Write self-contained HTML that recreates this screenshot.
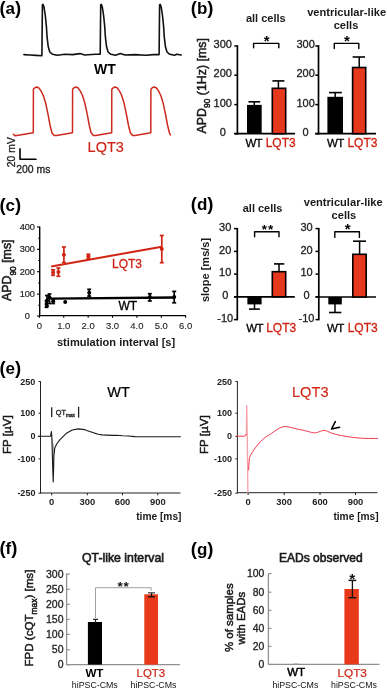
<!DOCTYPE html>
<html><head><meta charset="utf-8"><title>Figure</title>
<style>
html,body{margin:0;padding:0;background:#fff;}
body{width:387px;height:689px;overflow:hidden;}
svg{display:block;filter:blur(0.3px);font-family:"Liberation Sans",sans-serif;}
</style></head><body>
<svg width="387" height="689" viewBox="0 0 387 689">
<rect width="387" height="689" fill="#fff"/>
<text x="-0.6" y="13.6" font-size="17" font-weight="bold" fill="#000"><tspan font-size="18.5">(</tspan>a<tspan font-size="18.5">)</tspan></text>
<path d="M23.9,54.6 L30,55 L36,55.4 L41.9,55.8 L42.4,4.9 L43,4.4 L44,7 L45.3,15.5 L46.4,26.4 L47.1,37.2 L48.2,46.5 L49.8,52 L52.6,54.3 L57.2,55.2 L65,54.3 L72.7,54.6 L80,53.6 L84.6,55 L95.5,54.3 L100.2,54.3 L100.7,4.9 L101.3,4.4 L102.3,7 L103.6,15.5 L104.7,26.4 L105.4,37.2 L106.5,46.5 L108.1,52 L110.9,54.3 L115.5,55.2 L120.3,53.5 L125,55 L135,54.6 L145.9,55.3 L153.6,54.6 L159.1,54.6 L159.6,4.9 L160.2,4.4 L161.2,7 L162.5,15.5 L163.6,26.4 L164.3,37.2 L165.4,46.5 L167,52 L169.8,54.3 L174.4,55.2 L176.9,54.3 L181.2,55" stroke="#111" stroke-width="1.6" fill="none" stroke-linejoin="round" stroke-linecap="round" />
<text x="94" y="73.6" font-size="14" font-weight="bold" fill="#000" >WT</text>
<path d="M13.4,134.3 L15.4,135.8 L33.3,132.8 L33.4,89.3 L34,88.3 L36.4,87 L38.7,87.75 L41,90.9 L43.3,95.5 L45.7,103.3 L48,114.1 L50,125 L51.9,132.7 L54.2,135.5 L56.5,135.6 L72.5,132.8 L72.6,89.3 L73.2,88.3 L75.6,87 L77.9,87.75 L80.2,90.9 L82.5,95.5 L84.9,103.3 L87.2,114.1 L89.2,125 L91.1,132.7 L93.4,135.5 L95.7,135.6 L111.7,132.8 L111.8,89.3 L112.4,88.3 L114.8,87 L117.1,87.75 L119.4,90.9 L121.7,95.5 L124.1,103.3 L126.4,114.1 L128.4,125 L130.3,132.7 L132.6,135.5 L134.9,135.6 L150.8,132.8 L150.9,89.3 L151.5,88.3 L153.9,87 L156.2,87.75 L158.5,90.9 L160.8,95.5 L163.2,103.3 L165.5,114.1 L167.5,125 L169.4,132.7 L170.4,135" stroke="#cd2a1e" stroke-width="1.5" fill="none" stroke-linejoin="round" stroke-linecap="round" />
<text x="87.6" y="152.3" font-size="14.5" fill="#d02414"  stroke="#d02414" stroke-width="0.15">LQT3</text>
<text transform="translate(15.3,167.2) rotate(-90)" font-size="10.4" fill="#222"  stroke="#222" stroke-width="0.3">20 mV</text>
<path d="M20,148.9 L20,159.2 L36,159.2" stroke="#000" stroke-width="1.6" fill="none" stroke-linejoin="round" stroke-linecap="round" />
<text x="16.3" y="172.6" font-size="10.4" fill="#222"  stroke="#222" stroke-width="0.3">200 ms</text>
<text x="190.8" y="13.6" font-size="17" font-weight="bold" fill="#000"><tspan font-size="18.5">(</tspan>b<tspan font-size="18.5">)</tspan></text>
<text x="265.8" y="22.2" font-size="11" font-weight="bold" text-anchor="middle" fill="#1a1a1a" >all cells</text>
<line x1="234.3" y1="46" x2="237.4" y2="46" stroke="#000" stroke-width="1.5" />
<text x="222.8" y="48.1" font-size="11" text-anchor="middle" fill="#222"  stroke="#222" stroke-width="0.3">300</text>
<line x1="234.3" y1="75.2" x2="237.4" y2="75.2" stroke="#000" stroke-width="1.5" />
<text x="222.8" y="77.3" font-size="11" text-anchor="middle" fill="#222"  stroke="#222" stroke-width="0.3">200</text>
<line x1="234.3" y1="104.6" x2="237.4" y2="104.6" stroke="#000" stroke-width="1.5" />
<text x="222.8" y="106.7" font-size="11" text-anchor="middle" fill="#222"  stroke="#222" stroke-width="0.3">100</text>
<line x1="234.3" y1="133.7" x2="237.4" y2="133.7" stroke="#000" stroke-width="1.5" />
<text x="222.8" y="135.8" font-size="11" text-anchor="middle" fill="#222"  stroke="#222" stroke-width="0.3">0</text>
<line x1="237.4" y1="45.2" x2="237.4" y2="134.5" stroke="#000" stroke-width="1.7" />
<line x1="234.3" y1="133.7" x2="295" y2="133.7" stroke="#000" stroke-width="1.7" />
<rect x="247" y="104.9" width="14.7" height="28.8" fill="#000"/>
<line x1="254.3" y1="101.8" x2="254.3" y2="105.5" stroke="#000" stroke-width="1.5" />
<line x1="248.5" y1="101.8" x2="260.2" y2="101.8" stroke="#000" stroke-width="1.6" />
<line x1="278.4" y1="80.9" x2="278.4" y2="88" stroke="#000" stroke-width="1.5" />
<line x1="272.4" y1="80.9" x2="284.4" y2="80.9" stroke="#000" stroke-width="1.6" />
<rect x="272.3" y="88.3" width="13.4" height="45.4" fill="#e6381c" stroke="#000" stroke-width="1.6"/>
<path d="M253.6,47.8 L253.6,43.4 L278.8,43.4 L278.8,47.8" stroke="#000" stroke-width="1.4" fill="none" stroke-linejoin="round" stroke-linecap="round" />
<text x="266.6" y="45.8" font-size="15" font-weight="bold" text-anchor="middle" fill="#000" >*</text>
<text x="245.4" y="146.9" font-size="11.5" fill="#000" letter-spacing="-0.7" stroke="#000" stroke-width="0.3">WT</text>
<text x="265.7" y="146.9" font-size="12" fill="#d02414"  stroke="#d02414" stroke-width="0.3">LQT3</text>
<text x="346.6" y="15.7" font-size="11.1" font-weight="bold" text-anchor="middle" fill="#1a1a1a" >ventricular-like</text>
<text x="346" y="28.6" font-size="11.1" font-weight="bold" text-anchor="middle" fill="#1a1a1a" >cells</text>
<line x1="315.3" y1="46" x2="318.5" y2="46" stroke="#000" stroke-width="1.5" />
<text x="305.6" y="48.1" font-size="11" text-anchor="middle" fill="#222"  stroke="#222" stroke-width="0.3">300</text>
<line x1="315.3" y1="75.2" x2="318.5" y2="75.2" stroke="#000" stroke-width="1.5" />
<text x="305.6" y="77.3" font-size="11" text-anchor="middle" fill="#222"  stroke="#222" stroke-width="0.3">200</text>
<line x1="315.3" y1="104.6" x2="318.5" y2="104.6" stroke="#000" stroke-width="1.5" />
<text x="305.6" y="106.7" font-size="11" text-anchor="middle" fill="#222"  stroke="#222" stroke-width="0.3">100</text>
<line x1="315.3" y1="133.7" x2="318.5" y2="133.7" stroke="#000" stroke-width="1.5" />
<text x="305.6" y="135.8" font-size="11" text-anchor="middle" fill="#222"  stroke="#222" stroke-width="0.3">0</text>
<line x1="318.5" y1="45.2" x2="318.5" y2="134.5" stroke="#000" stroke-width="1.7" />
<line x1="315.3" y1="133.7" x2="376" y2="133.7" stroke="#000" stroke-width="1.7" />
<rect x="327.4" y="96.8" width="15.6" height="36.9" fill="#000"/>
<line x1="335.2" y1="92.6" x2="335.2" y2="97" stroke="#000" stroke-width="1.5" />
<line x1="329" y1="92.6" x2="341.8" y2="92.6" stroke="#000" stroke-width="1.6" />
<line x1="359.2" y1="57" x2="359.2" y2="67.5" stroke="#000" stroke-width="1.5" />
<line x1="352.6" y1="57" x2="365" y2="57" stroke="#000" stroke-width="1.6" />
<rect x="352.6" y="67.5" width="13.1" height="66.2" fill="#e6381c" stroke="#000" stroke-width="1.6"/>
<path d="M334.3,48.6 L334.3,43.4 L358.8,43.4 L358.8,48.6" stroke="#000" stroke-width="1.4" fill="none" stroke-linejoin="round" stroke-linecap="round" />
<text x="347" y="45.8" font-size="15" font-weight="bold" text-anchor="middle" fill="#000" >*</text>
<text x="327" y="146.9" font-size="11.5" fill="#000" letter-spacing="-0.7" stroke="#000" stroke-width="0.3">WT</text>
<text x="347.4" y="146.9" font-size="12" fill="#d02414"  stroke="#d02414" stroke-width="0.3">LQT3</text>
<text transform="translate(205.8,133.5) rotate(-90)" font-size="12.4" fill="#1a1a1a"  stroke="#1a1a1a" stroke-width="0.5">APD<tspan font-size="8.4" dy="4.6">90</tspan><tspan dy="-4.6"> (1Hz) [ms]</tspan></text>
<text x="-0.6" y="210.6" font-size="17" font-weight="bold" fill="#000"><tspan font-size="18.5">(</tspan>c<tspan font-size="18.5">)</tspan></text>
<line x1="39.7" y1="226.5" x2="39.7" y2="316.3" stroke="#000" stroke-width="1.4" />
<line x1="37" y1="227" x2="39.7" y2="227" stroke="#000" stroke-width="1.1" />
<text x="27.3" y="230" font-size="9.2" text-anchor="middle" fill="#222"  stroke="#222" stroke-width="0.2">400</text>
<line x1="37" y1="249.3" x2="39.7" y2="249.3" stroke="#000" stroke-width="1.1" />
<text x="27.3" y="252.3" font-size="9.2" text-anchor="middle" fill="#222"  stroke="#222" stroke-width="0.2">300</text>
<line x1="37" y1="271.7" x2="39.7" y2="271.7" stroke="#000" stroke-width="1.1" />
<text x="27.3" y="274.7" font-size="9.2" text-anchor="middle" fill="#222"  stroke="#222" stroke-width="0.2">200</text>
<line x1="37" y1="294.1" x2="39.7" y2="294.1" stroke="#000" stroke-width="1.1" />
<text x="27.3" y="297.1" font-size="9.2" text-anchor="middle" fill="#222"  stroke="#222" stroke-width="0.2">100</text>
<line x1="37" y1="316" x2="39.7" y2="316" stroke="#000" stroke-width="1.1" />
<text x="27.3" y="319" font-size="9.2" text-anchor="middle" fill="#222"  stroke="#222" stroke-width="0.2">0</text>
<line x1="38.2" y1="238.2" x2="39.7" y2="238.2" stroke="#000" stroke-width="1" />
<line x1="38.2" y1="260.5" x2="39.7" y2="260.5" stroke="#000" stroke-width="1" />
<line x1="38.2" y1="282.9" x2="39.7" y2="282.9" stroke="#000" stroke-width="1" />
<line x1="38.2" y1="305.3" x2="39.7" y2="305.3" stroke="#000" stroke-width="1" />
<line x1="39.7" y1="315.6" x2="186" y2="315.6" stroke="#000" stroke-width="1.4" />
<line x1="39.4" y1="315.6" x2="39.4" y2="317.9" stroke="#000" stroke-width="1" />
<text x="39.4" y="329.2" font-size="9.5" text-anchor="middle" fill="#222"  stroke="#222" stroke-width="0.1">0</text>
<line x1="63.78" y1="315.6" x2="63.78" y2="317.9" stroke="#000" stroke-width="1" />
<text x="63.78" y="329.2" font-size="9.5" text-anchor="middle" fill="#222"  stroke="#222" stroke-width="0.1">1.0</text>
<line x1="88.16" y1="315.6" x2="88.16" y2="317.9" stroke="#000" stroke-width="1" />
<text x="88.16" y="329.2" font-size="9.5" text-anchor="middle" fill="#222"  stroke="#222" stroke-width="0.1">2.0</text>
<line x1="112.54" y1="315.6" x2="112.54" y2="317.9" stroke="#000" stroke-width="1" />
<text x="112.54" y="329.2" font-size="9.5" text-anchor="middle" fill="#222"  stroke="#222" stroke-width="0.1">3.0</text>
<line x1="136.92" y1="315.6" x2="136.92" y2="317.9" stroke="#000" stroke-width="1" />
<text x="136.92" y="329.2" font-size="9.5" text-anchor="middle" fill="#222"  stroke="#222" stroke-width="0.1">4.0</text>
<line x1="161.3" y1="315.6" x2="161.3" y2="317.9" stroke="#000" stroke-width="1" />
<text x="161.3" y="329.2" font-size="9.5" text-anchor="middle" fill="#222"  stroke="#222" stroke-width="0.1">5.0</text>
<line x1="185.68" y1="315.6" x2="185.68" y2="317.9" stroke="#000" stroke-width="1" />
<text x="185.68" y="329.2" font-size="9.5" text-anchor="middle" fill="#222"  stroke="#222" stroke-width="0.1">6.0</text>
<text x="116.1" y="345.6" font-size="11.4" font-weight="bold" text-anchor="middle" fill="#1a1a1a"  textLength="118.3" lengthAdjust="spacingAndGlyphs">stimulation interval [s]</text>
<text transform="translate(10.8,301) rotate(-90)" font-size="12.4" fill="#1a1a1a"  stroke="#1a1a1a" stroke-width="0.55">APD<tspan font-size="8.3" dy="5.2">90</tspan><tspan dy="-5.2"> [ms]</tspan></text>
<line x1="51.2" y1="266.4" x2="161.8" y2="246.7" stroke="#d02414" stroke-width="2" />
<line x1="53.1" y1="269.8" x2="53.1" y2="275.3" stroke="#d02414" stroke-width="1.7" />
<line x1="51.1" y1="269.8" x2="55.1" y2="269.8" stroke="#d02414" stroke-width="1.7" />
<line x1="51.1" y1="275.3" x2="55.1" y2="275.3" stroke="#d02414" stroke-width="1.7" />
<circle cx="53.1" cy="272.4" r="2" fill="#d02414"/>
<line x1="58.4" y1="268" x2="58.4" y2="276.3" stroke="#d02414" stroke-width="1.7" />
<line x1="56.4" y1="268" x2="60.4" y2="268" stroke="#d02414" stroke-width="1.7" />
<line x1="56.4" y1="276.3" x2="60.4" y2="276.3" stroke="#d02414" stroke-width="1.7" />
<circle cx="58.4" cy="272.1" r="2" fill="#d02414"/>
<line x1="63.9" y1="247" x2="63.9" y2="262.5" stroke="#d02414" stroke-width="1.7" />
<line x1="61.9" y1="247" x2="65.9" y2="247" stroke="#d02414" stroke-width="1.7" />
<line x1="61.9" y1="262.5" x2="65.9" y2="262.5" stroke="#d02414" stroke-width="1.7" />
<circle cx="63.9" cy="254.7" r="2" fill="#d02414"/>
<line x1="88.4" y1="254.3" x2="88.4" y2="258.6" stroke="#d02414" stroke-width="1.7" />
<line x1="86.4" y1="254.3" x2="90.4" y2="254.3" stroke="#d02414" stroke-width="1.7" />
<line x1="86.4" y1="258.6" x2="90.4" y2="258.6" stroke="#d02414" stroke-width="1.7" />
<circle cx="88.4" cy="256.3" r="2" fill="#d02414"/>
<line x1="161.8" y1="235.5" x2="161.8" y2="262.7" stroke="#d02414" stroke-width="1.7" />
<line x1="159.8" y1="235.5" x2="163.8" y2="235.5" stroke="#d02414" stroke-width="1.7" />
<line x1="159.8" y1="262.7" x2="163.8" y2="262.7" stroke="#d02414" stroke-width="1.7" />
<circle cx="161.8" cy="249" r="2" fill="#d02414"/>
<text x="112" y="268" font-size="12" fill="#d02414"  stroke="#d02414" stroke-width="0.3">LQT3</text>
<line x1="50.9" y1="298.7" x2="174.2" y2="297.5" stroke="#000" stroke-width="2.3" />
<line x1="47" y1="295.5" x2="47" y2="306" stroke="#000" stroke-width="1.7" />
<line x1="45.1" y1="295.5" x2="48.9" y2="295.5" stroke="#000" stroke-width="1.7" />
<line x1="45.1" y1="306" x2="48.9" y2="306" stroke="#000" stroke-width="1.7" />
<circle cx="47" cy="300.5" r="2" fill="#000"/>
<line x1="49.5" y1="294" x2="49.5" y2="303.5" stroke="#000" stroke-width="1.7" />
<line x1="47.6" y1="294" x2="51.4" y2="294" stroke="#000" stroke-width="1.7" />
<line x1="47.6" y1="303.5" x2="51.4" y2="303.5" stroke="#000" stroke-width="1.7" />
<circle cx="49.5" cy="297.5" r="2" fill="#000"/>
<line x1="53.2" y1="299" x2="53.2" y2="303.5" stroke="#000" stroke-width="1.7" />
<line x1="51.3" y1="299" x2="55.1" y2="299" stroke="#000" stroke-width="1.7" />
<line x1="51.3" y1="303.5" x2="55.1" y2="303.5" stroke="#000" stroke-width="1.7" />
<circle cx="53.2" cy="301.2" r="2" fill="#000"/>
<line x1="46.5" y1="301" x2="46.5" y2="307.3" stroke="#000" stroke-width="1.7" />
<line x1="44.6" y1="301" x2="48.4" y2="301" stroke="#000" stroke-width="1.7" />
<line x1="44.6" y1="307.3" x2="48.4" y2="307.3" stroke="#000" stroke-width="1.7" />
<circle cx="46.5" cy="304" r="2" fill="#000"/>
<circle cx="65.2" cy="301.9" r="2" fill="#000"/>
<line x1="89.2" y1="289.3" x2="89.2" y2="296.1" stroke="#000" stroke-width="1.7" />
<line x1="87.2" y1="289.3" x2="91.2" y2="289.3" stroke="#000" stroke-width="1.7" />
<line x1="87.2" y1="296.1" x2="91.2" y2="296.1" stroke="#000" stroke-width="1.7" />
<circle cx="89.2" cy="292.7" r="2" fill="#000"/>
<line x1="149.8" y1="293.7" x2="149.8" y2="301" stroke="#000" stroke-width="1.7" />
<line x1="147.8" y1="293.7" x2="151.8" y2="293.7" stroke="#000" stroke-width="1.7" />
<line x1="147.8" y1="301" x2="151.8" y2="301" stroke="#000" stroke-width="1.7" />
<circle cx="149.8" cy="297.1" r="2" fill="#000"/>
<line x1="174.2" y1="291.4" x2="174.2" y2="302.8" stroke="#000" stroke-width="1.7" />
<line x1="172.2" y1="291.4" x2="176.2" y2="291.4" stroke="#000" stroke-width="1.7" />
<line x1="172.2" y1="302.8" x2="176.2" y2="302.8" stroke="#000" stroke-width="1.7" />
<circle cx="174.2" cy="297.1" r="2" fill="#000"/>
<text x="118.4" y="310" font-size="12" fill="#000"  stroke="#000" stroke-width="0.3">WT</text>
<text x="190.8" y="210.2" font-size="17" font-weight="bold" fill="#000"><tspan font-size="18.5">(</tspan>d<tspan font-size="18.5">)</tspan></text>
<text x="262.6" y="212.3" font-size="11" font-weight="bold" text-anchor="middle" fill="#1a1a1a" >all cells</text>
<line x1="234" y1="228.6" x2="237.3" y2="228.6" stroke="#000" stroke-width="1.5" />
<text x="225.2" y="230.7" font-size="11" text-anchor="middle" fill="#222"  stroke="#222" stroke-width="0.3">30</text>
<line x1="234" y1="251.4" x2="237.3" y2="251.4" stroke="#000" stroke-width="1.5" />
<text x="225.2" y="253.5" font-size="11" text-anchor="middle" fill="#222"  stroke="#222" stroke-width="0.3">20</text>
<line x1="234" y1="274.1" x2="237.3" y2="274.1" stroke="#000" stroke-width="1.5" />
<text x="225.2" y="276.2" font-size="11" text-anchor="middle" fill="#222"  stroke="#222" stroke-width="0.3">10</text>
<line x1="234" y1="296.8" x2="237.3" y2="296.8" stroke="#000" stroke-width="1.5" />
<text x="225.2" y="298.9" font-size="11" text-anchor="middle" fill="#222"  stroke="#222" stroke-width="0.3">0</text>
<line x1="234" y1="319.6" x2="237.3" y2="319.6" stroke="#000" stroke-width="1.5" />
<text x="225.2" y="321.7" font-size="11" text-anchor="middle" fill="#222"  stroke="#222" stroke-width="0.3">-10</text>
<line x1="237.3" y1="227.9" x2="237.3" y2="320.3" stroke="#000" stroke-width="1.7" />
<line x1="234" y1="296.8" x2="294.8" y2="296.8" stroke="#000" stroke-width="1.7" />
<rect x="247.4" y="296.8" width="14.2" height="7.6" fill="#000"/>
<line x1="254.5" y1="304" x2="254.5" y2="309.1" stroke="#000" stroke-width="1.5" />
<line x1="249" y1="309.1" x2="259.8" y2="309.1" stroke="#000" stroke-width="1.6" />
<line x1="279" y1="263.9" x2="279" y2="271.5" stroke="#000" stroke-width="1.5" />
<line x1="274" y1="263.9" x2="284.3" y2="263.9" stroke="#000" stroke-width="1.6" />
<rect x="272.3" y="271.7" width="13.4" height="25.1" fill="#e6381c" stroke="#000" stroke-width="1.6"/>
<path d="M254.6,236.8 L254.6,231.7 L279,231.7 L279,236.8" stroke="#000" stroke-width="1.4" fill="none" stroke-linejoin="round" stroke-linecap="round" />
<text x="268" y="233.7" font-size="13.5" font-weight="bold" text-anchor="middle" fill="#000" letter-spacing="0.9">**</text>
<text x="246.3" y="331.6" font-size="11.5" fill="#000" letter-spacing="-0.7" stroke="#000" stroke-width="0.3">WT</text>
<text x="266.2" y="331.6" font-size="12" fill="#d02414"  stroke="#d02414" stroke-width="0.3">LQT3</text>
<text transform="translate(209,302.1) rotate(-90)" font-size="11" font-weight="bold" fill="#1a1a1a" >slope [ms/s]</text>
<text x="343.2" y="205.6" font-size="11.1" font-weight="bold" text-anchor="middle" fill="#1a1a1a" >ventricular-like</text>
<text x="343.9" y="219.2" font-size="11.1" font-weight="bold" text-anchor="middle" fill="#1a1a1a" >cells</text>
<line x1="315.5" y1="228.6" x2="318.8" y2="228.6" stroke="#000" stroke-width="1.5" />
<text x="306.5" y="230.7" font-size="11" text-anchor="middle" fill="#222"  stroke="#222" stroke-width="0.3">30</text>
<line x1="315.5" y1="251.4" x2="318.8" y2="251.4" stroke="#000" stroke-width="1.5" />
<text x="306.5" y="253.5" font-size="11" text-anchor="middle" fill="#222"  stroke="#222" stroke-width="0.3">20</text>
<line x1="315.5" y1="274.1" x2="318.8" y2="274.1" stroke="#000" stroke-width="1.5" />
<text x="306.5" y="276.2" font-size="11" text-anchor="middle" fill="#222"  stroke="#222" stroke-width="0.3">10</text>
<line x1="315.5" y1="296.8" x2="318.8" y2="296.8" stroke="#000" stroke-width="1.5" />
<text x="306.5" y="298.9" font-size="11" text-anchor="middle" fill="#222"  stroke="#222" stroke-width="0.3">0</text>
<line x1="315.5" y1="319.6" x2="318.8" y2="319.6" stroke="#000" stroke-width="1.5" />
<text x="306.5" y="321.7" font-size="11" text-anchor="middle" fill="#222"  stroke="#222" stroke-width="0.3">-10</text>
<line x1="318.8" y1="227.9" x2="318.8" y2="320.3" stroke="#000" stroke-width="1.7" />
<line x1="315.5" y1="297" x2="376" y2="297" stroke="#000" stroke-width="1.7" />
<rect x="328.3" y="297" width="13.5" height="7.4" fill="#000"/>
<line x1="335" y1="304" x2="335" y2="312.5" stroke="#000" stroke-width="1.5" />
<line x1="329" y1="312.5" x2="341.3" y2="312.5" stroke="#000" stroke-width="1.6" />
<line x1="359.6" y1="241.2" x2="359.6" y2="254" stroke="#000" stroke-width="1.5" />
<line x1="353" y1="241.2" x2="366" y2="241.2" stroke="#000" stroke-width="1.6" />
<rect x="352.8" y="254.3" width="13.4" height="42.7" fill="#e6381c" stroke="#000" stroke-width="1.6"/>
<path d="M334.8,237.4 L334.8,231.7 L359.4,231.7 L359.4,237.4" stroke="#000" stroke-width="1.4" fill="none" stroke-linejoin="round" stroke-linecap="round" />
<text x="347.7" y="234" font-size="15" font-weight="bold" text-anchor="middle" fill="#000" >*</text>
<text x="327" y="331.6" font-size="11.5" fill="#000" letter-spacing="-0.7" stroke="#000" stroke-width="0.3">WT</text>
<text x="347.7" y="331.6" font-size="12" fill="#d02414"  stroke="#d02414" stroke-width="0.3">LQT3</text>
<text x="-0.6" y="373.6" font-size="17" font-weight="bold" fill="#000"><tspan font-size="18.5">(</tspan>e<tspan font-size="18.5">)</tspan></text>
<line x1="40.5" y1="381.3" x2="40.5" y2="493.3" stroke="#222" stroke-width="1" />
<line x1="38.5" y1="381.5" x2="40.5" y2="381.5" stroke="#222" stroke-width="1" />
<text x="35.4" y="384.5" font-size="9" font-weight="bold" text-anchor="end" fill="#222" >250</text>
<line x1="38.5" y1="413.2" x2="40.5" y2="413.2" stroke="#222" stroke-width="1" />
<text x="35.4" y="416.2" font-size="9" font-weight="bold" text-anchor="end" fill="#222" >100</text>
<line x1="38.5" y1="436.4" x2="40.5" y2="436.4" stroke="#222" stroke-width="1" />
<text x="35.4" y="439.4" font-size="9" font-weight="bold" text-anchor="end" fill="#222" >0</text>
<line x1="38.5" y1="458.9" x2="40.5" y2="458.9" stroke="#222" stroke-width="1" />
<text x="35.4" y="461.9" font-size="9" font-weight="bold" text-anchor="end" fill="#222" >-100</text>
<line x1="38.5" y1="493.2" x2="40.5" y2="493.2" stroke="#222" stroke-width="1" />
<text x="35.4" y="496.2" font-size="9" font-weight="bold" text-anchor="end" fill="#222" >-250</text>
<text transform="translate(10.5,454) rotate(-90)" font-size="11.6" fill="#1a1a1a"  stroke="#1a1a1a" stroke-width="0.5">FP [µV]</text>
<line x1="40" y1="493" x2="180.4" y2="493" stroke="#222" stroke-width="1" />
<line x1="51.6" y1="493" x2="51.6" y2="495.3" stroke="#222" stroke-width="1" />
<text x="51.6" y="505.4" font-size="9.4" font-weight="bold" text-anchor="middle" fill="#222" >0</text>
<line x1="87.3" y1="493" x2="87.3" y2="495.3" stroke="#222" stroke-width="1" />
<text x="87.3" y="505.4" font-size="9.4" font-weight="bold" text-anchor="middle" fill="#222" >300</text>
<line x1="122.5" y1="493" x2="122.5" y2="495.3" stroke="#222" stroke-width="1" />
<text x="122.5" y="505.4" font-size="9.4" font-weight="bold" text-anchor="middle" fill="#222" >600</text>
<line x1="157.8" y1="493" x2="157.8" y2="495.3" stroke="#222" stroke-width="1" />
<text x="157.8" y="505.4" font-size="9.4" font-weight="bold" text-anchor="middle" fill="#222" >900</text>
<text x="181.5" y="519.8" font-size="10.2" font-weight="bold" text-anchor="end" fill="#1a1a1a" >time [ms]</text>
<text x="107.3" y="397.4" font-size="14.5" fill="#000"  stroke="#000" stroke-width="0.2">WT</text>
<line x1="51.7" y1="407.2" x2="51.7" y2="417.1" stroke="#222" stroke-width="1.3" />
<line x1="78.6" y1="406.7" x2="78.6" y2="417.6" stroke="#222" stroke-width="1.3" />
<text x="55.8" y="415" font-size="7.3" fill="#222"  stroke="#222" stroke-width="0.35">QT<tspan font-size="4.8" dy="2.3">max</tspan></text>
<path d="M51.8,436 L53.2,482 L54.4,448.7 Z" fill="#aaa" stroke="none"/>
<path d="M38.2,436.2 L45,436.2 L50.5,436.3 L51.1,433 L51.4,431.6 L51.8,436 L52.5,460 L53.2,482 L53.6,470 L53.9,455.7 L54.8,447.9 L56.7,444 L59.8,439.8 L66,433.6 L72.2,430 L78.4,428.9 L84.6,429.6 L86.7,430.5 L90.5,431.8 L94.4,433.1 L98.3,434.2 L102.2,434.9 L107,435.1 L112.5,435.4 L117,435.2 L122.9,435.7 L128,436 L135,436.6 L141.7,436.7 L160,436.8 L180.4,436.7" stroke="#1a1a1a" stroke-width="1.1" fill="none" stroke-linejoin="round" stroke-linecap="round" />
<line x1="237.4" y1="381.3" x2="237.4" y2="493.3" stroke="#222" stroke-width="1" />
<line x1="235.4" y1="381.5" x2="237.4" y2="381.5" stroke="#222" stroke-width="1" />
<text x="232" y="384.5" font-size="9" font-weight="bold" text-anchor="end" fill="#222" >250</text>
<line x1="235.4" y1="413.2" x2="237.4" y2="413.2" stroke="#222" stroke-width="1" />
<text x="232" y="416.2" font-size="9" font-weight="bold" text-anchor="end" fill="#222" >100</text>
<line x1="235.4" y1="436.4" x2="237.4" y2="436.4" stroke="#222" stroke-width="1" />
<text x="232" y="439.4" font-size="9" font-weight="bold" text-anchor="end" fill="#222" >0</text>
<line x1="235.4" y1="458.9" x2="237.4" y2="458.9" stroke="#222" stroke-width="1" />
<text x="232" y="461.9" font-size="9" font-weight="bold" text-anchor="end" fill="#222" >-100</text>
<line x1="235.4" y1="493.2" x2="237.4" y2="493.2" stroke="#222" stroke-width="1" />
<text x="232" y="496.2" font-size="9" font-weight="bold" text-anchor="end" fill="#222" >-250</text>
<text transform="translate(207.6,454) rotate(-90)" font-size="11.6" fill="#1a1a1a"  stroke="#1a1a1a" stroke-width="0.5">FP [µV]</text>
<line x1="236.9" y1="492.7" x2="377.4" y2="492.7" stroke="#222" stroke-width="1" />
<line x1="248.1" y1="492.7" x2="248.1" y2="495" stroke="#222" stroke-width="1" />
<text x="248.1" y="505.4" font-size="9.4" font-weight="bold" text-anchor="middle" fill="#222" >0</text>
<line x1="284.2" y1="492.7" x2="284.2" y2="495" stroke="#222" stroke-width="1" />
<text x="284.2" y="505.4" font-size="9.4" font-weight="bold" text-anchor="middle" fill="#222" >300</text>
<line x1="320" y1="492.7" x2="320" y2="495" stroke="#222" stroke-width="1" />
<text x="320" y="505.4" font-size="9.4" font-weight="bold" text-anchor="middle" fill="#222" >600</text>
<line x1="355.5" y1="492.7" x2="355.5" y2="495" stroke="#222" stroke-width="1" />
<text x="355.5" y="505.4" font-size="9.4" font-weight="bold" text-anchor="middle" fill="#222" >900</text>
<text x="378.7" y="519.8" font-size="10.2" font-weight="bold" text-anchor="end" fill="#1a1a1a" >time [ms]</text>
<text x="292" y="397.4" font-size="14.6" fill="#d02414"  stroke="#d02414" stroke-width="0.1">LQT3</text>
<path d="M245.6,435.4 L246.4,433.8 L246.7,405.3 L247.3,440 L247.9,492.6" stroke="#f7a0a8" stroke-width="1.3" fill="none" stroke-linejoin="round" stroke-linecap="round" />
<path d="M236.9,436.2 L244.5,436.2 L245.4,435.6 L246.2,434.3" stroke="#f03a4c" stroke-width="1" fill="none" stroke-linejoin="round" stroke-linecap="round" />
<path d="M248.6,470 C248.7,468.33 249,462.17 249.2,460 C249.4,457.83 249.45,458.02 249.8,457 C250.15,455.98 250.38,455.43 251.3,453.9 C252.22,452.37 253.78,449.83 255.3,447.8 C256.82,445.77 258.78,443.4 260.4,441.7 C262.02,440 263.48,438.78 265,437.6 C266.52,436.42 268.1,435.52 269.5,434.6 C270.9,433.68 271.85,433.12 273.4,432.1 C274.95,431.08 277,429.42 278.8,428.5 C280.6,427.58 282.38,426.82 284.2,426.6 C286.02,426.38 287.88,426.88 289.7,427.2 C291.52,427.52 293.38,428.08 295.1,428.5 C296.82,428.92 298.47,429.37 300,429.7 C301.53,430.03 302.03,429.98 304.3,430.5 C306.57,431.02 311.27,432.53 313.6,432.8 C315.93,433.07 316.75,432.48 318.3,432.1 C319.85,431.72 321.55,430.7 322.9,430.5 C324.25,430.3 324.85,430.43 326.4,430.9 C327.95,431.37 329.68,432.52 332.2,433.3 C334.72,434.08 338.02,434.92 341.5,435.6 C344.98,436.28 349.22,436.93 353.1,437.4 C356.98,437.87 360.72,438.23 364.8,438.4 C368.88,438.57 375.47,438.4 377.6,438.4" stroke="#f03a4c" stroke-width="1" fill="none" stroke-linejoin="round" stroke-linecap="round" />
<path d="M335.3,421.7 L331.5,429 L339.5,427.3" stroke="#000" stroke-width="1.6" fill="none" stroke-linejoin="round" stroke-linecap="round" />
<text x="-0.6" y="553.8" font-size="17" font-weight="bold" fill="#000"><tspan font-size="18.5">(</tspan>f<tspan font-size="18.5">)</tspan></text>
<text x="82" y="561.7" font-size="12" fill="#1a1a1a"  textLength="82" lengthAdjust="spacingAndGlyphs" stroke="#1a1a1a" stroke-width="0.6">QT-like interval</text>
<line x1="66.6" y1="573.4" x2="66.6" y2="664.8" stroke="#909090" stroke-width="1.3" />
<line x1="66.6" y1="664.6" x2="180" y2="664.6" stroke="#909090" stroke-width="1.3" />
<line x1="66.6" y1="574.2" x2="69.8" y2="574.2" stroke="#909090" stroke-width="1.2" />
<text x="63.5" y="577.8" font-size="10.5" text-anchor="end" fill="#222"  stroke="#222" stroke-width="0.3">300</text>
<line x1="66.6" y1="589.3" x2="69.8" y2="589.3" stroke="#909090" stroke-width="1.2" />
<text x="63.5" y="592.9" font-size="10.5" text-anchor="end" fill="#222"  stroke="#222" stroke-width="0.3">250</text>
<line x1="66.6" y1="604.3" x2="69.8" y2="604.3" stroke="#909090" stroke-width="1.2" />
<text x="63.5" y="607.9" font-size="10.5" text-anchor="end" fill="#222"  stroke="#222" stroke-width="0.3">200</text>
<line x1="66.6" y1="619.4" x2="69.8" y2="619.4" stroke="#909090" stroke-width="1.2" />
<text x="63.5" y="623" font-size="10.5" text-anchor="end" fill="#222"  stroke="#222" stroke-width="0.3">150</text>
<line x1="66.6" y1="634.4" x2="69.8" y2="634.4" stroke="#909090" stroke-width="1.2" />
<text x="63.5" y="638" font-size="10.5" text-anchor="end" fill="#222"  stroke="#222" stroke-width="0.3">100</text>
<line x1="66.6" y1="649.8" x2="69.8" y2="649.8" stroke="#909090" stroke-width="1.2" />
<text x="63.5" y="653.4" font-size="10.5" text-anchor="end" fill="#222"  stroke="#222" stroke-width="0.3">50</text>
<line x1="66.6" y1="664.8" x2="69.8" y2="664.8" stroke="#909090" stroke-width="1.2" />
<text x="63.5" y="668.4" font-size="10.5" text-anchor="end" fill="#222"  stroke="#222" stroke-width="0.3">0</text>
<rect x="87.9" y="622" width="14.1" height="42.6" fill="#000"/>
<line x1="95.5" y1="619.4" x2="95.5" y2="622.5" stroke="#222" stroke-width="1.2" />
<line x1="93" y1="619.4" x2="98" y2="619.4" stroke="#222" stroke-width="1.2" />
<rect x="144.3" y="594.3" width="13.7" height="70.3" fill="#e8391a"/>
<line x1="151.5" y1="592.8" x2="151.5" y2="596.8" stroke="#111" stroke-width="1.2" />
<line x1="148" y1="592.8" x2="155" y2="592.8" stroke="#444" stroke-width="1.3" />
<line x1="148" y1="596.8" x2="155" y2="596.8" stroke="#111" stroke-width="1.3" />
<path d="M95.5,618 L95.5,587.7 L151.2,587.7 L151.2,590.3" stroke="#a0a0a0" stroke-width="1" fill="none" stroke-linejoin="round" stroke-linecap="round" />
<text x="123.6" y="591" font-size="13.5" font-weight="bold" text-anchor="middle" fill="#111" letter-spacing="0.9">**</text>
<text x="85.4" y="677" font-size="11.6" font-weight="bold" fill="#000" >WT</text>
<text x="136.6" y="677" font-size="11.4" fill="#d02414"  stroke="#d02414" stroke-width="0.2">LQT3</text>
<text x="71.8" y="687.9" font-size="8.8" fill="#111" >hiPSC-CMs</text>
<text x="130.5" y="687.9" font-size="8.8" fill="#111" >hiPSC-CMs</text>
<text transform="translate(32.8,666.6) rotate(-90)" font-size="11.6" fill="#1a1a1a"  stroke="#1a1a1a" stroke-width="0.5">FPD (cQT<tspan font-size="8.4" dy="4.5">max</tspan><tspan dy="-4.5">) [ms]</tspan></text>
<text x="190.8" y="555" font-size="17" font-weight="bold" fill="#000"><tspan font-size="18.5">(</tspan>g<tspan font-size="18.5">)</tspan></text>
<text x="279" y="561.9" font-size="12.1" fill="#1a1a1a"  textLength="83.6" lengthAdjust="spacingAndGlyphs" stroke="#1a1a1a" stroke-width="0.6">EADs observed</text>
<line x1="268.4" y1="573.6" x2="268.4" y2="664.5" stroke="#909090" stroke-width="1.3" />
<line x1="268.4" y1="664.3" x2="379.5" y2="664.3" stroke="#909090" stroke-width="1.3" />
<line x1="268.4" y1="573.6" x2="271.4" y2="573.6" stroke="#909090" stroke-width="1.2" />
<text x="264.3" y="577.3" font-size="10.4" text-anchor="end" fill="#222"  stroke="#222" stroke-width="0.3">100</text>
<line x1="268.4" y1="592.2" x2="271.4" y2="592.2" stroke="#909090" stroke-width="1.2" />
<text x="264.3" y="595.9" font-size="10.4" text-anchor="end" fill="#222"  stroke="#222" stroke-width="0.3">80</text>
<line x1="268.4" y1="610.3" x2="271.4" y2="610.3" stroke="#909090" stroke-width="1.2" />
<text x="264.3" y="614" font-size="10.4" text-anchor="end" fill="#222"  stroke="#222" stroke-width="0.3">60</text>
<line x1="268.4" y1="628.4" x2="271.4" y2="628.4" stroke="#909090" stroke-width="1.2" />
<text x="264.3" y="632.1" font-size="10.4" text-anchor="end" fill="#222"  stroke="#222" stroke-width="0.3">40</text>
<line x1="268.4" y1="646.4" x2="271.4" y2="646.4" stroke="#909090" stroke-width="1.2" />
<text x="264.3" y="650.1" font-size="10.4" text-anchor="end" fill="#222"  stroke="#222" stroke-width="0.3">20</text>
<line x1="268.4" y1="664.5" x2="271.4" y2="664.5" stroke="#909090" stroke-width="1.2" />
<text x="264.3" y="668.2" font-size="10.4" text-anchor="end" fill="#222"  stroke="#222" stroke-width="0.3">0</text>
<rect x="344.4" y="589" width="14.4" height="75.3" fill="#e8391a"/>
<line x1="352.4" y1="580.4" x2="352.4" y2="597.7" stroke="#111" stroke-width="1.3" />
<line x1="348.5" y1="580.4" x2="356.3" y2="580.4" stroke="#111" stroke-width="1.4" />
<line x1="348.5" y1="597.7" x2="356.3" y2="597.7" stroke="#111" stroke-width="1.4" />
<text x="352.3" y="584.2" font-size="15.5" font-weight="bold" text-anchor="middle" fill="#111" >*</text>
<line x1="293.5" y1="663.6" x2="298.6" y2="663.6" stroke="#b0b0b0" stroke-width="0.8" />
<text x="287.2" y="676.3" font-size="11.5" fill="#000"  stroke="#000" stroke-width="0.5">WT</text>
<text x="337.4" y="677" font-size="11.8" fill="#d02414"  stroke="#d02414" stroke-width="0.2">LQT3</text>
<text x="331" y="687.5" font-size="8.8" fill="#111" >hiPSC-CMs</text>
<text x="272.4" y="687.5" font-size="8.8" fill="#111" >hiPSC-CMs</text>
<text transform="translate(232.8,617.7) rotate(-90)" font-size="11.8" text-anchor="middle" fill="#1a1a1a"  textLength="68.8" lengthAdjust="spacingAndGlyphs" stroke="#1a1a1a" stroke-width="0.5">% of samples</text>
<text transform="translate(245.4,618.2) rotate(-90)" font-size="11.8" text-anchor="middle" fill="#1a1a1a"  textLength="52.8" lengthAdjust="spacingAndGlyphs" stroke="#1a1a1a" stroke-width="0.5">with EADs</text>
</svg>
</body></html>
